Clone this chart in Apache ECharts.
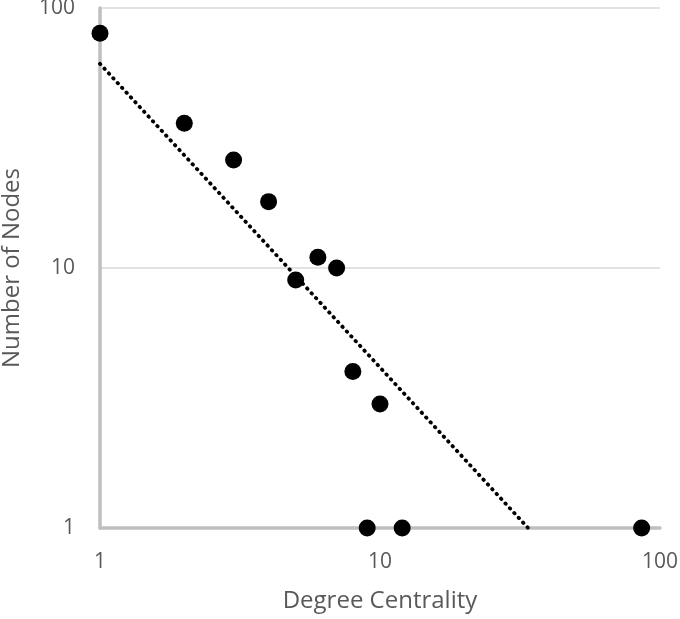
<!DOCTYPE html>
<html><head><meta charset="utf-8">
<script src="https://cdn.jsdelivr.net/npm/echarts@6/dist/echarts.min.js"></script>
<style>html,body{margin:0;padding:0;background:#fff}#c{width:680px;height:619px}</style>
</head><body><div id="c"></div>
<script>
const degree = [1, 2, 3, 4, 5, 6, 7, 8, 10, 9, 12, 86];
const nodes  = [80, 36, 26, 18, 9, 11, 10, 4, 3, 1, 1, 1];
const trendX = [1, 33.8];
const trendY = [61, 1];
const xTicks = [1, 10, 100];
const yTicks = [1, 10, 100];

const font = '"Open Sans", Calibri, sans-serif';
const chart = echarts.init(document.getElementById('c'));
chart.setOption({
  animation: false,
  grid: {left: 100, right: 20, top: 8, bottom: 91, containLabel: false, outerBoundsMode: 'none'},
  xAxis: {
    type: 'log', logBase: 10, min: xTicks[0], max: xTicks[xTicks.length-1],
    name: 'Degree Centrality', nameLocation: 'middle', nameGap: 61,
    nameTextStyle: {color: '#595959', fontSize: 24, fontFamily: font},
    axisLine: {lineStyle: {color: '#bfbfbf', width: 3.5}},
    axisTick: {show: false},
    splitLine: {show: false},
    minorTick: {show: false},
    axisLabel: {color: '#595959', fontSize: 21, fontFamily: font, margin: 24}
  },
  yAxis: {
    type: 'log', logBase: 10, min: yTicks[0], max: yTicks[yTicks.length-1],
    name: 'Number of Nodes', nameLocation: 'middle', nameGap: 76,
    nameTextStyle: {color: '#595959', fontSize: 24, fontFamily: font},
    axisLine: {show: true, lineStyle: {color: '#bfbfbf', width: 3.5}},
    axisTick: {show: false},
    splitLine: {show: true, lineStyle: {color: '#d9d9d9', width: 1.5}},
    axisLabel: {color: '#595959', fontSize: 21, fontFamily: font, margin: 25}
  },
  series: [
    {
      type: 'line',
      data: trendX.map((x, i) => [x, trendY[i]]),
      symbol: 'none',
      lineStyle: {color: '#000', width: 3.8, type: [0.5, 6], cap: 'round'},
      z: 2
    },
    {
      type: 'scatter',
      data: degree.map((x, i) => [x, nodes[i]]),
      symbol: 'circle',
      symbolSize: 17,
      itemStyle: {color: '#000', opacity: 1},
      z: 3
    }
  ]
});
</script></body></html>
